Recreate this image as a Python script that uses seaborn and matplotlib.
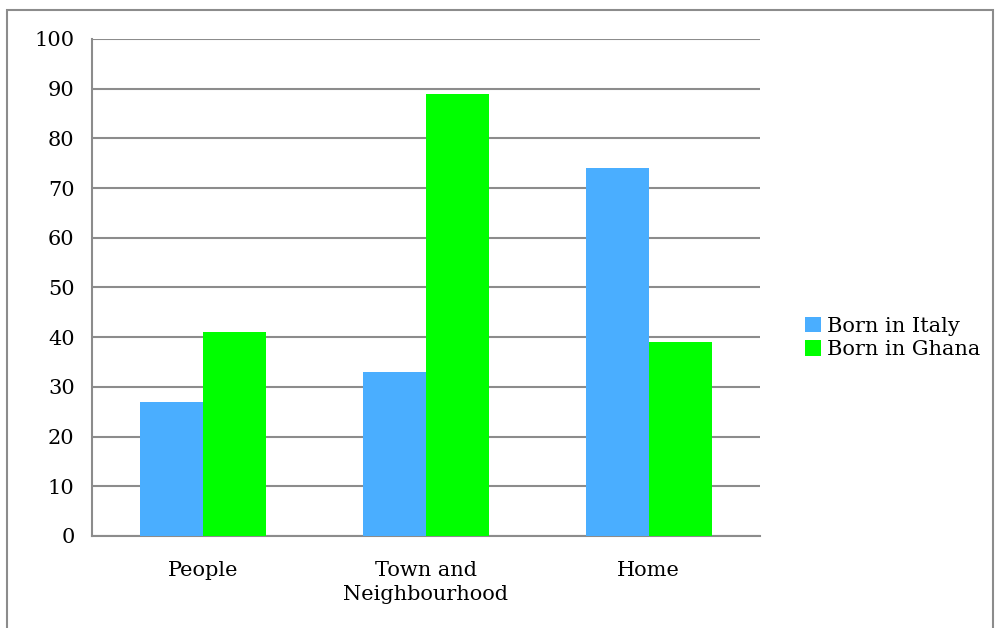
import matplotlib
matplotlib.use('Agg')
import matplotlib.pyplot as plt
import seaborn as sns
import pandas as pd
from matplotlib.patches import Rectangle

# chart data
categories = ['People', 'Town and\nNeighbourhood', 'Home']
series_names = ['Born in Italy', 'Born in Ghana']
italy_values = [27, 33, 74]
ghana_values = [41, 89, 39]
y_ticks = list(range(0, 101, 10))

df = pd.DataFrame({
    'category': categories * 2,
    'group': [series_names[0]] * 3 + [series_names[1]] * 3,
    'value': italy_values + ghana_values,
})

sns.set_theme(style='white')
plt.rcParams['font.family'] = ['DejaVu Serif']
plt.rcParams['text.color'] = 'black'
plt.rcParams['xtick.color'] = 'black'
plt.rcParams['ytick.color'] = 'black'

fig = plt.figure(figsize=(10, 6.28), dpi=100)
ax = fig.add_axes([0.092, 0.1465, 0.668, 0.7915])

grid_col = '#8c8c8c'
fs = 15
sns.barplot(data=df, x='category', y='value', hue='group', order=categories,
            hue_order=series_names, palette=['#4aaeff', '#00ff00'],
            width=0.567, saturation=1, linewidth=0, ax=ax, zorder=3)

ax.set_ylim(0, 100)
ax.set_xlim(-0.5, 2.5)
ax.set_yticks(y_ticks)
ax.yaxis.grid(True, color=grid_col, linewidth=1.5, zorder=0)
ax.set_axisbelow(True)
ax.set_xlabel(None)
ax.set_ylabel(None)

for side in ['top', 'right']:
    ax.spines[side].set_visible(False)
for side in ['left', 'bottom']:
    ax.spines[side].set_color(grid_col)
    ax.spines[side].set_linewidth(1.5)

ax.tick_params(axis='y', length=6.5, width=1.5, color=grid_col, pad=6,
               labelsize=fs, labelcolor='black')
ax.tick_params(axis='x', which='major', length=0, pad=18, labelsize=fs,
               labelcolor='black')
ax.set_xticks([-0.5, 0.5, 1.5, 2.5], minor=True)
ax.tick_params(axis='x', which='minor', length=6.5, width=1.5, color=grid_col,
               direction='out')
for lab in ax.get_xticklabels():
    lab.set_verticalalignment('top')
    lab.set_linespacing(1.35)

leg = ax.legend(loc='center left', bbox_to_anchor=(0.795, 1 - 338 / 628),
                bbox_transform=fig.transFigure, frameon=False,
                fontsize=fs, handlelength=0.75, handleheight=0.75,
                handletextpad=0.3, labelspacing=0.22, borderpad=0)
for t in leg.get_texts():
    t.set_color('black')

# outer border like the chart frame (bottom edge runs off the image)
fig.patches.append(Rectangle((0.0065, -0.05), 0.9865, 1.034, transform=fig.transFigure,
                             fill=False, edgecolor='#8c8c8c', linewidth=1.5))

fig.savefig('out.png', dpi=100)
